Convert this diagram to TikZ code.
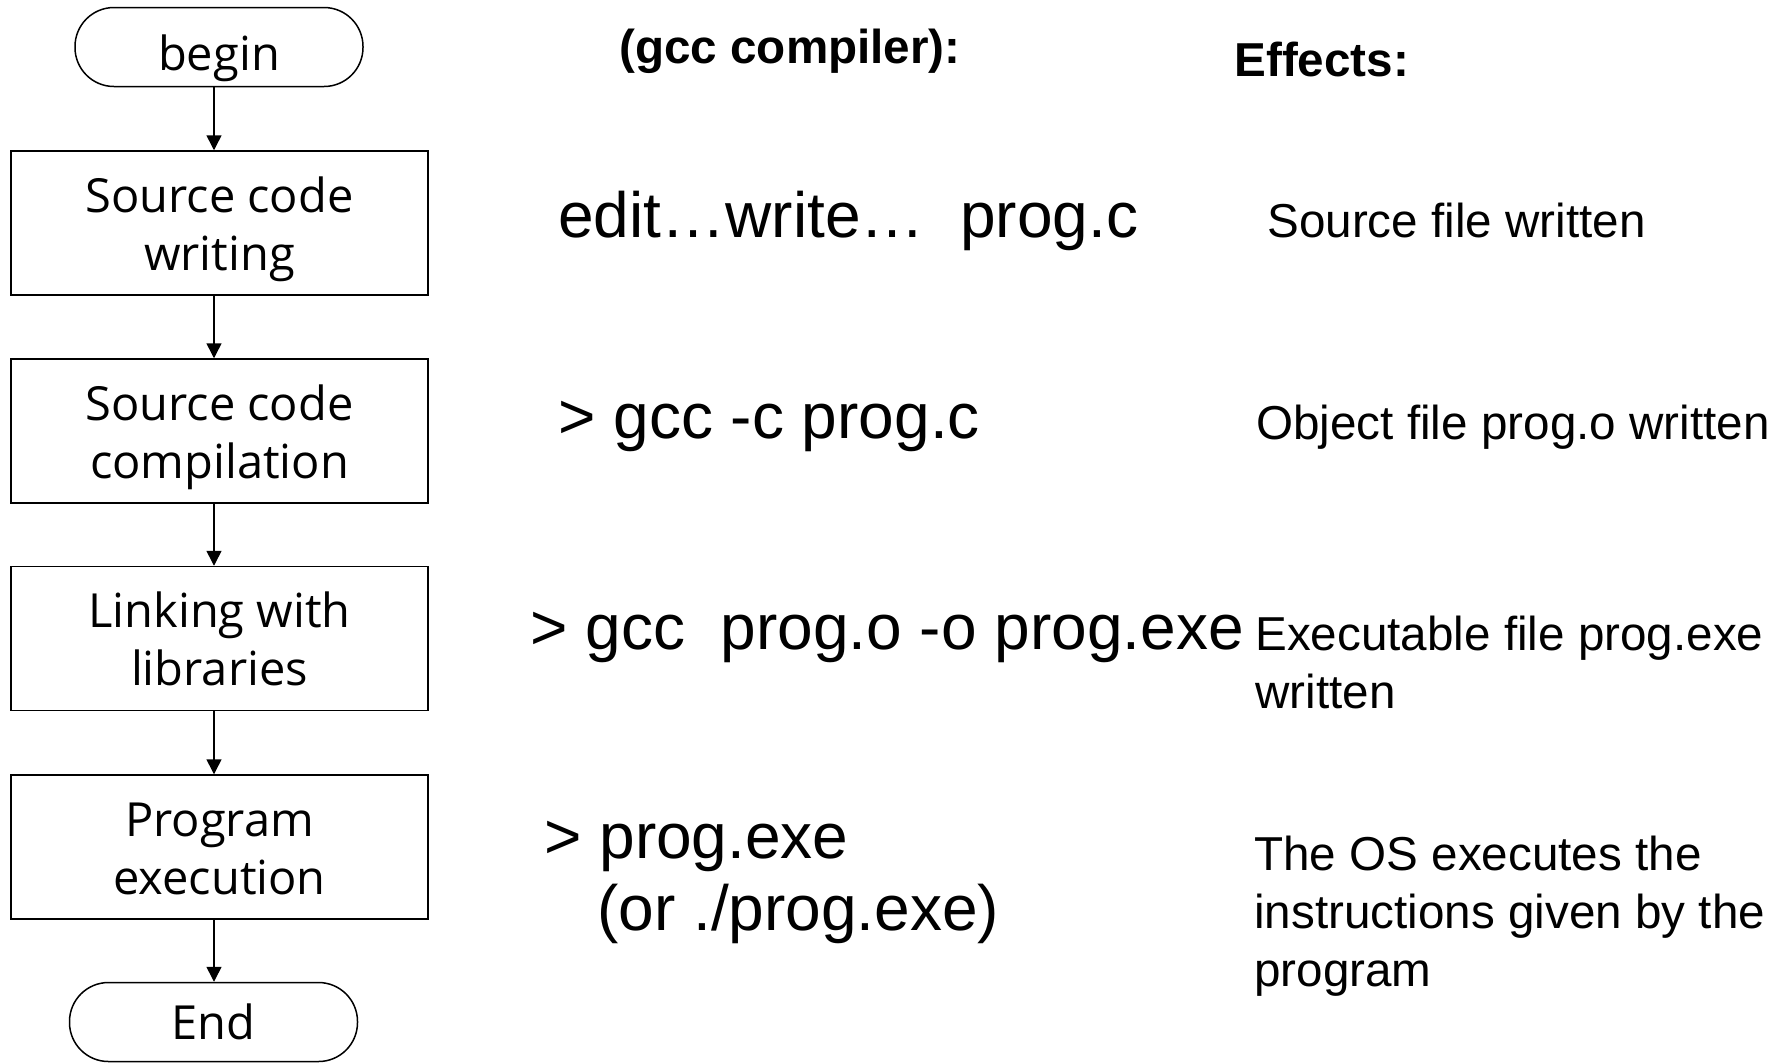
\documentclass[tikz,border=0pt]{standalone}
\usepackage{fontspec}
\setmainfont{Liberation Sans}
\newfontfamily\flowfont{Open Sans}
\usetikzlibrary{arrows.meta}

\tikzset{
  stepbox/.style={draw, line width=0.75pt, rectangle, minimum width=208.5pt,
    minimum height=72pt, align=center, inner sep=0pt,
    text height=47pt, text depth=0pt,
    font=\flowfont\fontsize{23.5}{29}\selectfont},
  terminal/.style={draw, line width=0.75pt, rectangle, rounded corners=19.5pt,
    minimum width=144pt, minimum height=39.5pt, inner sep=0pt, text depth=0pt,
    font=\flowfont\fontsize{23.5}{29}\selectfont},
  flowarrow/.style={line width=0.75pt, -{Triangle[width=7.5pt,length=7.5pt]}},
  header/.style={anchor=base west, inner sep=0pt, font=\bfseries\fontsize{23.8}{29}\selectfont},
  command/.style={anchor=base west, inner sep=0pt, font=\fontsize{32}{36}\selectfont},
  effect/.style={anchor=base west, inner sep=0pt, align=left, font=\fontsize{23.8}{29}\selectfont},
}

\begin{document}
\begin{tikzpicture}[x=0.5pt, y=-0.5pt]
  \useasboundingbox[fill=white] (0,0) rectangle (1787,1062);

  % flowchart of the build steps
  \node[terminal, text height=23pt] (begin) at (219,47) {begin};
  \node[stepbox] (write) at (219.5,223) {Source code\\writing};
  \node[stepbox] (compile) at (219.5,431) {Source code\\compilation};
  \node[stepbox] (link) at (219.5,638.5) {Linking with\\libraries};
  \node[stepbox] (run) at (219.5,847) {Program\\execution};
  \node[terminal, text height=17pt] (end) at (213.5,1022) {End};

  % all connectors share one vertical axis
  \coordinate (axis) at (214,0);
  \draw[flowarrow] (begin.south -| axis) -- (write.north -| axis);
  \draw[flowarrow] (write.south -| axis) -- (compile.north -| axis);
  \draw[flowarrow] (compile.south -| axis) -- (link.north -| axis);
  \draw[flowarrow] (link.south -| axis) -- (run.north -| axis);
  \draw[flowarrow] (run.south -| axis) -- (end.north -| axis);

  % column headings
  \node[header] (hcmd) at (619,63) {(gcc compiler):};
  \node[header] (heff) at (1234,76) {Effects:};

  % commands
  \node[command] (c1) at (558,237) {edit…write…\ \ prog.c};
  \node[command] (c2) at (558,438) {> gcc -c prog.c};
  \node[command] (c3) at (530,649) {> gcc\ \ prog.o -o prog.exe};
  \node[command] (c4) at (544,858) {> prog.exe};
  \node[command] (c4b) at (597,930) {(or ./prog.exe)};

  % effects (multi-line nodes are placed by the baseline of their last line)
  \node[effect] (e1) at (1267,237) {Source file written};
  \node[effect] (e2) at (1256,439) {Object file prog.o written};
  \node[effect] (e3) at (1255,708) {Executable file prog.exe\\written};
  \node[effect] (e4) at (1254,986) {The OS executes the\\instructions given by the\\program};
\end{tikzpicture}
\end{document}
